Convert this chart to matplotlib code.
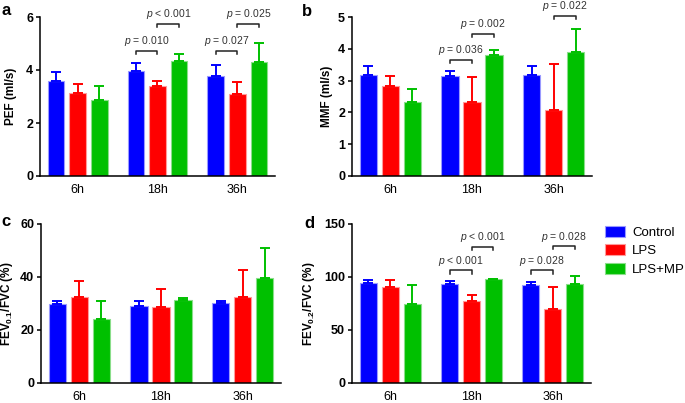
import matplotlib
matplotlib.use("Agg")
import matplotlib.pyplot as plt
import numpy as np
from matplotlib.patches import Patch

plt.rcParams['font.family'] = ['Liberation Sans', 'DejaVu Sans']
plt.rcParams['mathtext.fontset'] = 'custom'
plt.rcParams['mathtext.rm'] = 'Liberation Sans'
plt.rcParams['mathtext.it'] = 'Liberation Sans:italic'
plt.rcParams['mathtext.bf'] = 'Liberation Sans:bold'

# ---- data ----
timepoints = ["6h", "18h", "36h"]
groups = ["Control", "LPS", "LPS+MP"]

pef_mean = {"Control": [3.58, 3.95, 3.79], "LPS": [3.12, 3.41, 3.08], "LPS+MP": [2.87, 4.34, 4.30]}
pef_err = {"Control": [0.33, 0.33, 0.40], "LPS": [0.35, 0.16, 0.48], "LPS+MP": [0.53, 0.25, 0.72]}

mmf_mean = {"Control": [3.17, 3.16, 3.17], "LPS": [2.82, 2.32, 2.08], "LPS+MP": [2.32, 3.80, 3.91]}
mmf_err = {"Control": [0.28, 0.14, 0.28], "LPS": [0.31, 0.79, 1.44], "LPS+MP": [0.42, 0.17, 0.71]}

fev01_mean = {"Control": [29.6, 29.0, 30.1], "LPS": [32.3, 28.5, 32.5], "LPS+MP": [24.2, 31.2, 39.6]}
fev01_err = {"Control": [1.3, 1.9, 0.6], "LPS": [6.1, 6.9, 10.1], "LPS+MP": [6.6, 0.7, 11.3]}

fev02_mean = {"Control": [94.5, 93.6, 92.3], "LPS": [90.2, 76.9, 69.7], "LPS+MP": [74.4, 98.0, 93.6]}
fev02_err = {"Control": [2.3, 2.5, 2.6], "LPS": [7.2, 6.3, 20.8], "LPS+MP": [17.7, 0.3, 7.0]}

# significance annotations: (timepoint index, group a, group b, bracket height, p value, operator)
pef_sig = [(1, 0, 1, 4.72, "0.010", "="), (1, 1, 2, 5.74, "0.001", "<"),
           (2, 0, 1, 4.72, "0.027", "="), (2, 1, 2, 5.74, "0.025", "=")]
mmf_sig = [(1, 0, 1, 3.65, "0.036", "="), (1, 1, 2, 4.48, "0.002", "="),
           (2, 1, 2, 5.04, "0.022", "=")]
fev02_sig = [(1, 0, 1, 106.2, "0.001", "<"), (1, 1, 2, 128.5, "0.001", "<"),
             (2, 0, 1, 106.2, "0.028", "="), (2, 1, 2, 129.2, "0.028", "=")]

colors = {"Control": "#0000ff", "LPS": "#ff0000", "LPS+MP": "#00c000"}
edgecolors = {"Control": "#9a9aff", "LPS": "#ff9a9a", "LPS+MP": "#8ade8a"}

W, H = 685, 403
fig = plt.figure(figsize=(W / 100, H / 100), dpi=100)


def px_axes(l, r, t, b):
    return fig.add_axes([l / W, 1 - b / H, (r - l) / W, (b - t) / H])


offs = [-0.27, 0.0, 0.27]
bw = 0.21


def draw(ax, means, errs, ymax, ystep, ylabel, sig, labelx):
    x = np.arange(len(timepoints))
    for i, g in enumerate(groups):
        m = np.array(means[g])
        e = np.array(errs[g])
        ax.bar(x + offs[i], m, bw, color=colors[g], edgecolor=edgecolors[g], linewidth=0.8, zorder=2)
        ax.errorbar(x + offs[i], m, yerr=[np.zeros_like(e), e], fmt='none', ecolor=colors[g],
                    elinewidth=1.4, capsize=3.3, capthick=1.4, zorder=3)
    ax.set_xlim(-0.47, 2.47)
    ax.set_ylim(0, ymax)
    ax.set_yticks(np.arange(0, ymax + 1e-9, ystep))
    ax.set_xticks(x)
    ax.set_xticklabels(timepoints, fontsize=9)
    for lab in ax.get_yticklabels():
        lab.set_fontweight('bold')
        lab.set_fontsize(9)
    ax.tick_params(axis='x', length=0, pad=6)
    ax.tick_params(axis='y', length=3, width=1.1, pad=2)
    for s in ['top', 'right']:
        ax.spines[s].set_visible(False)
    for s in ['left', 'bottom']:
        ax.spines[s].set_linewidth(1.1)
    ax.set_ylabel(ylabel, fontsize=8.5, fontweight='bold')
    ax.yaxis.set_label_coords(labelx, 0.5)
    drop = 0.02 * ymax
    for (t, a, b, h, val, op) in sig:
        xa = t + offs[a]
        xb = t + offs[b]
        ax.plot([xa, xa, xb, xb], [h - drop, h, h, h - drop], color='#222222', lw=1.1,
                clip_on=False, zorder=4)
        ax.annotate(r"$\it{p}$ " + op + " " + val, xy=((xa + xb) / 2, h), xytext=(0, 1.8),
                    textcoords='offset points', ha='center', va='bottom', fontsize=7.5,
                    color='#333333', annotation_clip=False)


ax_a = px_axes(40, 275, 17, 176)
draw(ax_a, pef_mean, pef_err, 6, 2, "PEF (ml/s)", pef_sig, -23 / 235)
ax_b = px_axes(352, 592, 17, 176)
draw(ax_b, mmf_mean, mmf_err, 5, 1, "MMF (ml/s)", mmf_sig, -19 / 240)
ax_c = px_axes(41, 281, 224, 382.7)
draw(ax_c, fev01_mean, fev01_err, 60, 20, r"FEV$_{\mathbf{0.1}}$/FVC (%)", [], -26 / 240)
ax_d = px_axes(352, 591, 224, 382.7)
draw(ax_d, fev02_mean, fev02_err, 150, 50, r"FEV$_{\mathbf{0.2}}$/FVC (%)", fev02_sig, -35 / 239)

for (lx, ly, s) in [(1, 3, 'a'), (302, 4, 'b'), (1, 214, 'c'), (304, 216, 'd')]:
    fig.text(lx / W, 1 - ly / H, s, fontsize=12, fontweight='bold', ha='left', va='top')

handles = [Patch(facecolor=colors[g], edgecolor=edgecolors[g], linewidth=0.8, label=g) for g in groups]
fig.legend(handles=handles, loc='upper left', bbox_to_anchor=(605 / W, 1 - 226 / H), frameon=False,
           fontsize=9.5, handlelength=1.5, handleheight=0.9, handletextpad=0.55, labelspacing=0.4,
           borderaxespad=0, borderpad=0)

fig.savefig("out.png", dpi=100)
